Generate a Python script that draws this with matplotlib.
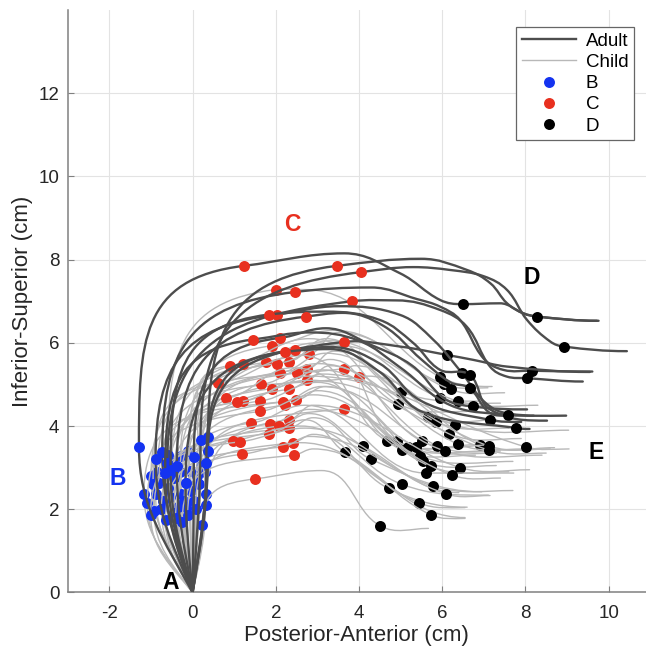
import numpy as np
import matplotlib
matplotlib.use("Agg")
import matplotlib.pyplot as plt
from matplotlib.path import Path
from matplotlib.patches import PathPatch
from matplotlib.lines import Line2D

plt.rcParams['font.family'] = ['Liberation Sans', 'DejaVu Sans']
plt.rcParams['axes.unicode_minus'] = False

# ---------------- data ----------------
origin_A = (0.0, 0.0)

# adult curves: landmark B, landmark C, shape nodes between C and D, landmark D, nodes after D, end (E side)
adult_B = [(-1.29, 3.50), (0.37, 3.73), (0.19, 3.67), (-0.73, 3.37), (-0.61, 3.10), (0.37, 3.41),
           (-0.89, 3.20), (-0.53, 2.95), (-0.38, 3.04), (0.03, 3.25), (-0.66, 2.86), (-0.17, 2.64),
           (0.33, 3.10)]
adult_C = [(1.23, 7.85), (3.47, 7.85), (4.05, 7.70), (2.45, 7.22), (3.84, 7.00), (3.63, 6.02),
           (2.02, 6.68), (1.84, 6.68), (2.72, 6.63), (2.11, 6.12), (1.46, 6.08), (2.45, 5.83),
           (2.21, 5.78)]
adult_mid = [
    [(3.65, 8.15), (4.99, 7.67), (5.95, 7.03)],
    [(5.50, 8.02), (6.60, 7.75), (7.16, 7.43), (7.56, 6.95), (7.95, 6.71)],
    [(5.30, 7.82), (6.20, 7.75), (7.00, 7.60), (7.56, 7.27), (8.04, 6.55), (8.60, 6.03)],
    [(4.30, 7.33), (5.40, 7.05), (5.95, 6.87), (6.43, 6.55), (6.99, 5.63), (7.47, 5.35)],
    [(4.90, 7.02), (5.95, 6.79), (6.59, 6.39), (7.15, 5.43), (7.55, 5.19)],
    [(4.99, 5.91)],
    [(3.50, 6.88), (4.99, 6.67), (5.79, 6.07)],
    [(3.20, 6.75), (4.50, 6.55), (5.30, 6.00), (5.95, 5.35)],
    [(3.60, 6.72), (4.60, 6.40), (5.50, 5.60), (6.20, 5.05)],
    [(3.20, 6.35), (4.29, 5.95), (5.28, 5.45), (6.07, 4.65)],
    [(2.80, 6.25), (4.00, 6.05), (5.00, 5.40), (6.20, 4.50)],
    [(3.30, 5.90), (4.50, 5.50), (5.50, 4.60)],
    [(3.30, 5.85), (4.50, 5.30), (5.50, 4.35)],
]
adult_D = [(6.49, 6.93), (8.29, 6.63), (8.93, 5.91), (8.16, 5.33), (8.05, 5.15), (6.11, 5.71),
           (6.47, 5.28), (6.66, 5.23), (6.66, 4.91), (6.75, 4.47), (7.59, 4.27), (7.14, 4.15),
           (7.78, 3.95)]
adult_tail = [
    [(7.39, 6.95), (7.95, 6.71), (8.29, 6.63)],
    [], [], [], [],
    [(6.75, 5.59), (7.55, 5.43)],
    [(7.05, 4.55), (7.59, 4.30)],
    [(7.15, 4.40)],
    [(7.10, 4.35)],
    [], [], [], [],
]
adult_E = [(9.72, 6.53), (9.76, 6.53), (10.44, 5.80), (9.61, 5.31), (9.38, 5.07), (9.55, 5.30),
           (8.98, 4.25), (8.52, 4.13), (7.45, 4.25), (8.04, 4.40), (8.20, 4.25), (7.90, 4.10),
           (8.10, 3.93)]

# child curves: landmark B, landmark C, crest, landmark D, end
child_B = [(-0.10, 3.40), (0.20, 3.05), (-0.29, 3.27), (-0.50, 3.10), (-0.85, 2.90), (-0.07, 2.92),
           (0.30, 2.90), (-0.30, 2.90), (-1.00, 2.80), (0.10, 2.80), (-0.45, 2.75), (-0.81, 2.64),
           (-0.17, 2.64), (-0.95, 2.60), (0.15, 2.60), (-0.60, 2.50), (-0.05, 2.45), (0.31, 2.37),
           (-1.17, 2.36), (-0.89, 2.36), (-0.29, 2.36), (-0.55, 2.30), (-0.70, 2.20), (-0.20, 2.20),
           (0.03, 2.19), (-1.09, 2.14), (0.31, 2.11), (-0.35, 2.05), (-0.15, 2.05), (0.07, 2.00),
           (-0.75, 2.00), (-0.93, 1.95), (-0.45, 1.91), (-1.01, 1.87), (-0.12, 1.87), (-0.65, 1.75),
           (-0.41, 1.79), (-0.25, 1.70), (0.23, 1.61), (-0.60, 3.30)]
child_C = [(1.92, 5.93), (2.79, 5.73), (2.31, 5.55), (1.77, 5.53), (2.04, 5.50), (1.22, 5.50),
           (0.89, 5.45), (2.76, 5.38), (3.65, 5.38), (2.11, 5.28), (2.51, 5.28), (3.99, 5.17),
           (2.74, 5.10), (0.61, 5.03), (1.65, 5.00), (1.92, 4.90), (2.31, 4.88), (0.80, 4.67),
           (2.48, 4.62), (1.22, 4.60), (1.62, 4.60), (2.17, 4.58), (1.06, 4.57), (2.21, 4.50),
           (3.65, 4.42), (1.62, 4.35), (2.31, 4.15), (1.40, 4.07), (1.87, 4.05), (2.08, 4.00),
           (2.31, 3.95), (1.84, 3.82), (0.96, 3.65), (1.13, 3.62), (2.41, 3.60), (2.17, 3.50),
           (1.18, 3.32), (2.43, 3.30), (1.50, 2.73), (2.00, 7.28)]
child_P = [(3.40, 6.30), (3.50, 6.25), (3.20, 6.10), (3.30, 6.05), (3.40, 5.95), (3.00, 6.00),
           (2.80, 6.10), (3.40, 5.80), (3.90, 5.45), (3.20, 5.75), (3.30, 5.60), (4.20, 5.20),
           (3.30, 5.45), (2.60, 5.70), (3.00, 5.50), (3.10, 5.35), (3.10, 5.25), (2.40, 5.40),
           (3.20, 4.95), (2.80, 5.20), (3.00, 5.05), (3.10, 4.95), (2.80, 5.10), (3.00, 4.85),
           (3.80, 4.45), (2.90, 4.75), (2.90, 4.50), (2.70, 4.50), (2.80, 4.40), (2.80, 4.30),
           (2.90, 4.20), (2.70, 4.15), (2.60, 4.00), (2.70, 3.95), (2.90, 3.80), (2.80, 3.75),
           (2.60, 3.60), (2.90, 3.45), (3.10, 2.93), (2.70, 7.28)]
child_D = [(6.05, 5.00), (6.20, 4.88), (5.00, 4.83), (5.95, 4.68), (6.37, 4.60), (4.93, 4.53),
           (5.65, 4.22), (5.85, 4.10), (6.31, 4.02), (6.17, 3.82), (4.91, 3.65), (6.91, 3.55),
           (5.52, 3.63), (4.68, 3.63), (6.38, 3.57), (5.87, 3.53), (7.13, 3.52), (5.18, 3.50),
           (5.38, 3.50), (8.01, 3.50), (5.03, 3.42), (6.07, 3.40), (7.13, 3.42), (5.47, 3.27),
           (5.55, 3.15), (5.72, 3.03), (6.44, 3.00), (5.62, 2.87), (6.24, 2.82), (4.09, 3.52),
           (4.29, 3.20), (3.66, 3.37), (5.03, 2.60), (5.79, 2.55), (4.71, 2.50), (6.09, 2.37),
           (5.45, 2.15), (5.72, 1.87), (4.51, 1.60), (5.95, 5.18)]
child_E = [(7.10, 4.92), (7.50, 4.80), (6.90, 4.60), (7.40, 4.55), (8.30, 4.50), (6.60, 4.35),
           (7.30, 4.15), (7.60, 3.95), (9.04, 3.90), (7.90, 3.70), (6.80, 3.55), (8.70, 3.48),
           (7.20, 3.55), (6.50, 3.50), (8.00, 3.45), (7.40, 3.40), (8.60, 3.45), (7.00, 3.40),
           (7.30, 3.35), (9.05, 3.45), (6.80, 3.30), (8.40, 3.30), (8.50, 3.35), (7.70, 3.15),
           (7.30, 3.05), (7.60, 2.90), (8.10, 2.95), (7.72, 2.87), (7.40, 2.75), (6.40, 2.40),
           (6.95, 2.42), (6.55, 1.80), (7.11, 2.34), (7.70, 2.45), (6.60, 2.05), (7.15, 2.33),
           (6.55, 2.04), (6.55, 1.78), (5.67, 1.54), (7.20, 4.95)]

label_text = ['A', 'B', 'C', 'D', 'E']
label_pos = [(-0.52, 0.24), (-1.80, 2.75), (2.40, 8.85), (8.15, 7.57), (9.70, 3.37)]
label_color = ['black', '#1433f0', '#e8301f', 'black', 'black']

# ---------------- styles ----------------
ADULT_COL = '#4d4d4d'
CHILD_COL = '#b8b8b8'
B_COL = '#1433f0'
C_COL = '#e8301f'
D_COL = 'black'
AXIS_COL = '#808080'
TEXT_COL = '#262626'
MS = 7.9


def smooth_path(nodes):
    P = np.asarray(nodes, dtype=float)
    n = len(P)
    T = np.zeros_like(P)
    for i in range(n):
        if i == 0:
            d = P[1] - P[0]
            d = np.array([d[0] * 1.5, d[1]])
        elif i == 1:
            d = np.array([0.0, 1.0])
        elif i == 2:
            d = np.array([1.0, 0.12])
        elif i == n - 1:
            d = np.array([1.0, 0.0])
        else:
            y0, y1, y2 = P[i - 1, 1], P[i, 1], P[i + 1, 1]
            if (y1 >= y0 and y1 >= y2) or (y1 <= y0 and y1 <= y2):
                d = np.array([1.0, 0.0])
            else:
                d = P[i + 1] - P[i - 1]
        T[i] = d / np.hypot(*d)
    verts = [P[0]]
    codes = [Path.MOVETO]
    for i in range(n - 1):
        L = np.hypot(*(P[i + 1] - P[i]))
        k = 0.5 if i == 1 else 0.38
        verts += [P[i] + T[i] * L * k, P[i + 1] - T[i + 1] * L * k, P[i + 1]]
        codes += [Path.CURVE4] * 3
    return Path(verts, codes)


fig = plt.figure(figsize=(6.46, 6.53), dpi=100)
ax = fig.add_axes([0.105, 0.0927, 0.895, 0.892])

# children
for b, c, p, d, e in zip(child_B, child_C, child_P, child_D, child_E):
    path = smooth_path([origin_A, b, c, p, d, e])
    ax.add_patch(PathPatch(path, fill=False, edgecolor=CHILD_COL, lw=1.0,
                           capstyle='round', joinstyle='round', zorder=2))
    ax.plot([b[0]], [b[1]], 'o', color=B_COL, ms=MS, mew=0, zorder=2)
    ax.plot([c[0]], [c[1]], 'o', color=C_COL, ms=MS, mew=0, zorder=2)
    ax.plot([d[0]], [d[1]], 'o', color=D_COL, ms=MS, mew=0, zorder=2)

# adults
for b, c, mid, d, tail, e in zip(adult_B, adult_C, adult_mid, adult_D, adult_tail, adult_E):
    nodes = [origin_A, b, c] + list(mid) + [d] + list(tail) + [e]
    path = smooth_path(nodes)
    ax.add_patch(PathPatch(path, fill=False, edgecolor=ADULT_COL, lw=1.7,
                           capstyle='round', joinstyle='round', zorder=3))
    ax.plot([b[0]], [b[1]], 'o', color=B_COL, ms=MS, mew=0, zorder=3)
    ax.plot([c[0]], [c[1]], 'o', color=C_COL, ms=MS, mew=0, zorder=3)
    ax.plot([d[0]], [d[1]], 'o', color=D_COL, ms=MS, mew=0, zorder=3)

for t, (x, y), col in zip(label_text, label_pos, label_color):
    ax.text(x, y, t, color=col, fontsize=16.5, fontweight='bold', ha='center', va='center', zorder=5)

ax.set_xlim(-3, 10.9)
ax.set_ylim(0, 14)
ax.set_xticks([-2, 0, 2, 4, 6, 8, 10])
ax.set_yticks([0, 2, 4, 6, 8, 10, 12])
ax.grid(True, color='#e3e3e3', lw=0.8, zorder=0)
ax.set_axisbelow(True)
for s in ['top', 'right']:
    ax.spines[s].set_visible(False)
for s in ['left', 'bottom']:
    ax.spines[s].set_color(AXIS_COL)
    ax.spines[s].set_linewidth(1.1)
ax.tick_params(direction='in', length=4, width=0.8, color=AXIS_COL, labelcolor=TEXT_COL,
               labelsize=13.5)
ax.tick_params(axis='x', pad=9)
ax.tick_params(axis='y', pad=6)
ax.set_xlabel('Posterior-Anterior (cm)', fontsize=16, color=TEXT_COL, labelpad=2)
ax.set_ylabel('Inferior-Superior (cm)', fontsize=16, color=TEXT_COL, labelpad=4)

handles = [Line2D([], [], color=ADULT_COL, lw=1.7),
           Line2D([], [], color=CHILD_COL, lw=1.0),
           Line2D([], [], ls='none', marker='o', color=B_COL, ms=MS, mew=0),
           Line2D([], [], ls='none', marker='o', color=C_COL, ms=MS, mew=0),
           Line2D([], [], ls='none', marker='o', color=D_COL, ms=MS, mew=0)]
leg = ax.legend(handles, ['Adult', 'Child', 'B', 'C', 'D'], loc='upper right',
                bbox_to_anchor=(0.979, 0.971), borderaxespad=0, fontsize=13.5,
                handlelength=2.9, handletextpad=0.5, labelspacing=0.22,
                fancybox=False, framealpha=1, edgecolor='#666666', borderpad=0.3)
leg.get_frame().set_linewidth(0.9)

fig.savefig('out.png', dpi=100)
